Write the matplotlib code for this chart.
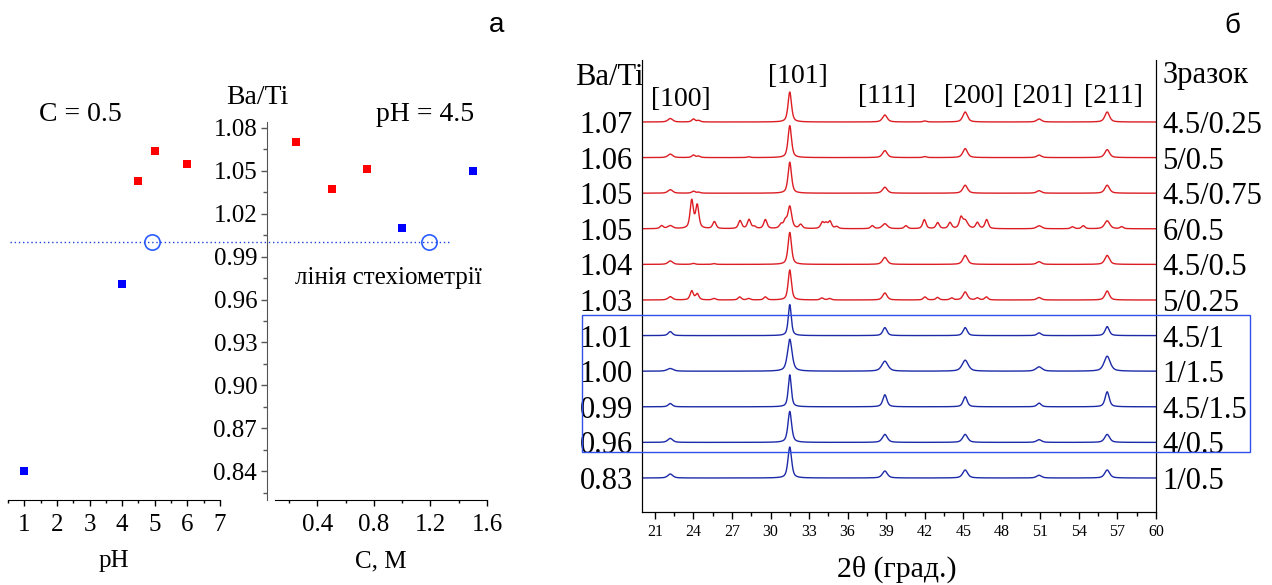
import numpy as np
import matplotlib
matplotlib.use("Agg")
import matplotlib.pyplot as plt
from matplotlib.ticker import MultipleLocator, FixedLocator
from matplotlib.patches import Rectangle
import matplotlib.transforms as mtransforms

# ---------------- data: panel a ----------------
ph_red_x = [4.5, 5.0, 6.0]
ph_red_y = [1.043, 1.064, 1.055]
ph_blue_x = [4.0, 1.0]
ph_blue_y = [0.971, 0.840]
ph_circle = [4.9, 1.0]

c_red_x = [0.25, 0.50, 0.75]
c_red_y = [1.070, 1.037, 1.051]
c_blue_x = [1.0, 1.5]
c_blue_y = [1.010, 1.050]
c_circle = [1.19, 1.0]

ratio_ticks = [0.84, 0.87, 0.90, 0.93, 0.96, 0.99, 1.02, 1.05, 1.08]
ph_ticks = [1, 2, 3, 4, 5, 6, 7]
c_ticks = [0.4, 0.8, 1.2, 1.6]

# ---------------- data: panel б (XRD) ----------------
xrd_ratio = ["1.07", "1.06", "1.05", "1.05", "1.04", "1.03",
             "1.01", "1.00", "0.99", "0.96", "0.83"]
xrd_sample = ["4.5/0.25", "5/0.5", "4.5/0.75", "6/0.5", "4.5/0.5", "5/0.25",
              "4.5/1", "1/1.5", "4.5/1.5", "4/0.5", "1/0.5"]
xrd_is_red = [True, True, True, True, True, True,
              False, False, False, False, False]

hkl_labels = ["[100]", "[101]", "[111]", "[200]", "[201]", "[211]"]
hkl_pos = [22.2, 31.5, 38.9, 45.15, 50.9, 56.2]
hkl_label_x = [23.0, 32.1, 39.1, 45.8, 51.2, 56.7]

# peak heights (pixel-like intensity) of the perovskite reflections for each sample
h_4p5_0p25 = [3.5, 30, 7, 10, 3.0, 10]
h_5_0p5 = [3.5, 32, 7, 9, 2.5, 8]
h_4p5_0p75 = [3.5, 31, 6, 8, 2.5, 8]
h_6_0p5 = [3.0, 22, 5, 8, 3.0, 8]
h_4p5_0p5 = [3.5, 32, 7, 9, 2.7, 9]
h_5_0p25 = [3.3, 30, 7, 8, 2.5, 9]
h_4p5_1 = [4.0, 31, 8, 8, 2.7, 9]
h_1_1p5 = [2.7, 32, 10, 11, 4.3, 15]
h_4p5_1p5 = [3.3, 32, 12, 10, 3.7, 15]
h_4_0p5 = [4.0, 31, 8, 8, 2.7, 8]
h_1_0p5 = [4.0, 31, 7, 8, 2.7, 8]

# peak widths (FWHM, deg) per sample
w_main = [0.32, 0.32, 0.32, 0.35, 0.32, 0.30, 0.28, 0.42, 0.28, 0.34, 0.34]

# impurity peaks (position, height)
imp_4p5_0p25 = [(24.0, 3.0), (24.4, 1.5), (42.0, 1.0)]
imp_5_0p5 = [(24.0, 2.5), (24.4, 1.5), (28.3, 0.8), (42.0, 1.0)]
imp_4p5_0p75 = [(24.0, 2.0), (24.4, 1.0)]
imp_6_0p5 = [(21.53, 3), (23.87, 28), (24.3, 23), (25.63, 7), (27.63, 8),
             (28.33, 9), (28.74, 2), (29.6, 9), (30.82, 4), (31.15, 7),
             (32.35, 4), (34.03, 6), (34.32, 5), (34.63, 7), (35.15, 2),
             (37.92, 3), (40.54, 3), (41.97, 9), (43.01, 6), (43.97, 6),
             (44.82, 10), (46.1, 6), (46.82, 9), (53.5, 2), (54.34, 3),
             (57.33, 2)]
imp_4p5_0p5 = [(24.0, 1.0), (25.6, 0.8)]
imp_5_0p25 = [(23.87, 9), (24.3, 6), (25.6, 1.5), (27.6, 3), (28.3, 1.5),
              (29.6, 3), (34.0, 2), (34.6, 1.5), (42.02, 3), (43.0, 2.5),
              (44.1, 2), (46.1, 2), (46.8, 3)]

heights = [h_4p5_0p25, h_5_0p5, h_4p5_0p75, h_6_0p5, h_4p5_0p5, h_5_0p25,
           h_4p5_1, h_1_1p5, h_4p5_1p5, h_4_0p5, h_1_0p5]
impurities = [imp_4p5_0p25, imp_5_0p5, imp_4p5_0p75, imp_6_0p5, imp_4p5_0p5,
              imp_5_0p25, [], [], [], [], []]

# ---------------- style ----------------
plt.rcParams['font.family'] = ['Liberation Serif', 'DejaVu Serif']
RED_M = '#ff0000'
BLUE_M = '#0000ff'
RED_L = '#dc1e24'
BLUE_L = '#1c2aa8'

W, H = 1272, 585
fig = plt.figure(figsize=(W / 100, H / 100), dpi=100)


def fx(px):
    return px / W


def fy(py):
    return 1 - py / H


# ---------------- panel a ----------------
ax_top, ax_bot = 122, 500
ax_ph = fig.add_axes([fx(8), fy(ax_bot), fx(212), (ax_bot - ax_top) / H])
ax_c = fig.add_axes([fx(275), fy(ax_bot), fx(212), (ax_bot - ax_top) / H])
ylim_a = (0.82, 1.084)

ax_ph.scatter(ph_red_x, ph_red_y, marker='s', s=28, color=RED_M, zorder=3, linewidths=0)
ax_ph.scatter(ph_blue_x, ph_blue_y, marker='s', s=28, color=BLUE_M, zorder=3, linewidths=0)
ax_ph.plot([ph_circle[0]], [ph_circle[1]], 'o', ms=11, mfc='white', mec='#2a5cff', mew=1.2, zorder=4)
ax_ph.set_xlim(0.5, 7.0)
ax_ph.set_ylim(*ylim_a)
for s in ['top', 'right', 'left']:
    ax_ph.spines[s].set_visible(False)
ax_ph.set_yticks([])
ax_ph.set_xticks(ph_ticks)
ax_ph.xaxis.set_minor_locator(MultipleLocator(0.5))
ax_ph.tick_params(axis='x', which='major', direction='out', length=4, width=1, labelsize=18, pad=6)
ax_ph.tick_params(axis='x', which='minor', direction='out', length=2.5, width=1)
ax_ph.patch.set_alpha(0)

ax_c.scatter(c_red_x, c_red_y, marker='s', s=28, color=RED_M, zorder=3, linewidths=0)
ax_c.scatter(c_blue_x, c_blue_y, marker='s', s=28, color=BLUE_M, zorder=3, linewidths=0)
ax_c.plot([c_circle[0]], [c_circle[1]], 'o', ms=11, mfc='white', mec='#2a5cff', mew=1.2, zorder=4)
ax_c.set_xlim(0.1, 1.6)
ax_c.set_ylim(*ylim_a)
for s in ['top', 'right']:
    ax_c.spines[s].set_visible(False)
ax_c.spines['left'].set_position(('outward', 5.8))
ax_c.spines['left'].set_color('#555555')
ax_c.set_yticks(ratio_ticks)
ax_c.set_yticklabels([f"{v:.2f}" for v in ratio_ticks])
ax_c.yaxis.set_minor_locator(MultipleLocator(0.015))
ax_c.tick_params(axis='y', which='major', direction='out', length=4, width=1, color='#555555', labelsize=18, pad=3)
ax_c.tick_params(axis='y', which='minor', direction='out', length=3, width=1, color='#555555')
ax_c.set_xticks(c_ticks)
ax_c.set_xticklabels([f"{v:.1f}" for v in c_ticks])
ax_c.xaxis.set_minor_locator(MultipleLocator(0.2))
ax_c.tick_params(axis='x', which='major', direction='out', length=4, width=1, labelsize=18, pad=6)
ax_c.tick_params(axis='x', which='minor', direction='out', length=2.5, width=1)
ax_c.patch.set_alpha(0)

# stoichiometry line (y = 1.0) across both sub-panels
tr = mtransforms.blended_transform_factory(fig.transFigure, ax_c.transData)
fig.add_artist(plt.Line2D([fx(10), fx(450)], [1.0, 1.0], transform=tr,
                          color='#2040e0', lw=1.0, linestyle=(0, (1, 2)), zorder=1))

fig.text(fx(80), fy(121), "C = 0.5", ha='center', va='baseline', fontsize=20)
fig.text(fx(257), fy(104), "Ba/Ti", ha='center', va='baseline', fontsize=20)
fig.text(fx(425), fy(121), "pH = 4.5", ha='center', va='baseline', fontsize=20)
fig.text(fx(388), fy(284), "лінія стехіометрії", ha='center', va='baseline', fontsize=18)
fig.text(fx(114), fy(567), "pH", ha='center', va='baseline', fontsize=18)
fig.text(fx(381), fy(567), "C, M", ha='center', va='baseline', fontsize=18)
fig.text(fx(497), fy(32), "а", ha='center', va='baseline', fontsize=20, family='Liberation Sans')

# ---------------- panel б ----------------
xt, xb = 60, 512
ax_x = fig.add_axes([fx(642), fy(xb), fx(514), (xb - xt) / H])
spacing = 35.6
n = len(xrd_sample)
offsets = [(n - 1 - i) * spacing for i in range(n)]
tt = np.linspace(20, 60, 4001)


def pv(x, c, h, w, eta=0.6):
    g = np.exp(-4 * np.log(2) * ((x - c) / w) ** 2)
    l = 1 / (1 + 4 * ((x - c) / w) ** 2)
    return h * (eta * l + (1 - eta) * g)


for i in range(n):
    y = np.zeros_like(tt)
    for k, (p, h) in enumerate(zip(hkl_pos, heights[i])):
        w = w_main[i] if k == 1 else w_main[i] * 1.35
        y += pv(tt, p, h, w)
    for (p, h) in impurities[i]:
        y += pv(tt, p, h, 0.3)
    ax_x.plot(tt, y + offsets[i], color=RED_L if xrd_is_red[i] else BLUE_L, lw=1.0)

ax_x.set_xlim(20, 60)
ax_x.set_ylim(-34, 418)
ax_x.spines['top'].set_visible(False)
ax_x.set_xticks(np.arange(21, 61, 3))
ax_x.xaxis.set_minor_locator(FixedLocator(np.arange(22.5, 60, 3)))
ax_x.tick_params(axis='x', which='major', direction='out', length=5, width=1, labelsize=11.5, pad=4)
ax_x.tick_params(axis='x', which='minor', direction='out', length=3, width=1)
ax_x.set_yticks(offsets)
ax_x.set_yticklabels(xrd_ratio)
ax_x.tick_params(axis='y', length=0, labelsize=22, pad=6.5)
ax2 = ax_x.twinx()
ax2.set_ylim(ax_x.get_ylim())
ax2.set_yticks(offsets)
ax2.set_yticklabels(xrd_sample)
ax2.tick_params(axis='y', length=0, labelsize=22, pad=4.5)
ax2.spines['top'].set_visible(False)
ax_x.patch.set_alpha(0)

label_y = [106, 83, 103, 103, 103, 103]
trx = mtransforms.blended_transform_factory(ax_x.transData, fig.transFigure)
for lab, xx, yy in zip(hkl_labels, hkl_label_x, label_y):
    fig.text(xx, fy(yy), lab, transform=trx, ha='center', va='baseline', fontsize=20)

fig.text(fx(609), fy(85), "Ba/Ti", ha='center', va='baseline', fontsize=22)
fig.text(fx(1162), fy(83), "Зразок", ha='left', va='baseline', fontsize=22)
fig.text(fx(897), fy(577), "2θ (град.)", ha='center', va='baseline', fontsize=21.5)
fig.text(fx(1232), fy(33), "б", ha='center', va='baseline', fontsize=20, family='Liberation Sans')

fig.add_artist(Rectangle((fx(582), fy(452)), fx(668), 137 / H, transform=fig.transFigure,
                         fill=False, edgecolor='#3050e8', lw=1.0))

fig.savefig("out.png", dpi=100)
